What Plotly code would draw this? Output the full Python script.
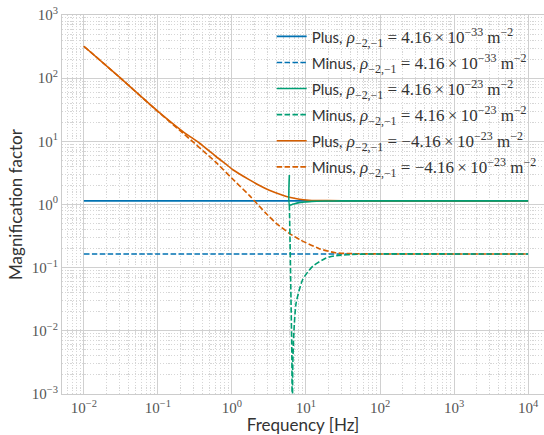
import plotly.graph_objects as go

# ---- data ----
f_const = [0.01, 0.1, 1.0, 10.0, 100.0, 1000.0, 10000.0]
plus_33 = [1.14, 1.14, 1.14, 1.14, 1.14, 1.14, 1.14]
minus_33 = [0.165, 0.165, 0.165, 0.165, 0.165, 0.165, 0.165]

f_plus_pos23 = [5.97, 6.0, 6.5, 7.0, 8.0, 10.0, 12.0, 18.0, 30.0, 100.0, 1000.0, 10000.0]
plus_pos23 = [2.94, 0.98, 1.0, 1.03, 1.07, 1.10, 1.12, 1.135, 1.14, 1.14, 1.14, 1.14]

f_minus_pos23 = [5.97, 6.1, 6.28, 6.45, 6.55, 6.62, 6.82, 7.36, 9.04, 12.3, 18.7, 25.5, 50.0, 100.0, 1000.0, 10000.0]
minus_pos23 = [0.99, 0.25, 0.031, 0.004, 0.0001, 0.0024, 0.0081, 0.0275, 0.065, 0.105, 0.142, 0.155, 0.163, 0.165, 0.165, 0.165]

f_plus_neg23 = [0.01, 0.03, 0.095, 0.218, 0.366, 0.614, 0.84, 1.03, 1.73, 2.36, 3.2, 4.85, 5.97, 8.15, 11.0, 20.0, 50.0, 100.0, 1000.0, 10000.0]
plus_neg23 = [320, 105, 31.6, 14.3, 9.33, 5.7, 4.3, 3.55, 2.45, 2.0, 1.68, 1.4, 1.3, 1.21, 1.17, 1.15, 1.145, 1.14, 1.14, 1.14]

f_minus_neg23 = [0.01, 0.03, 0.095, 0.218, 0.614, 1.0, 1.73, 2.9, 4.0, 5.97, 8.15, 15.1, 25.0, 50.0, 100.0, 1000.0, 10000.0]
minus_neg23 = [320, 104.5, 31.2, 13.5, 4.6, 2.6, 1.38, 0.72, 0.5, 0.35, 0.28, 0.20, 0.172, 0.166, 0.165, 0.165, 0.165]

x_exps = [-2, -1, 0, 1, 2, 3, 4]
y_exps = [-3, -2, -1, 0, 1, 2, 3]

BLUE, GREEN, ORANGE = "#0072B2", "#009E73", "#D55E00"
SERIF = "Liberation Serif"
SANS = "Lato"
TH = "\u2009"

def label(kind, mant, exp):
    return (f"<span style='font-family:{SANS}; font-size:15px'>{kind},</span> "
            f"<span style='font-family:{SERIF}; font-size:17px'><i>ρ</i><sub>−2,−1</sub> = {mant}"
            f"{TH}×{TH}10<sup>−{exp}</sup> m<sup>−2</sup></span>")

def pow_text(e):
    s = str(e).replace("-", "−")
    return f"10<sup>{s}</sup>"

DASH = "5.5px,2.4px"
fig = go.Figure()
series = [
    (f_const, plus_33, BLUE, "solid", label("Plus", "4.16", "33"), 1),
    (f_const, minus_33, BLUE, DASH, label("Minus", "4.16", "33"), 2),
    (f_plus_neg23, plus_neg23, ORANGE, "solid", label("Plus", "−4.16", "23"), 5),
    (f_minus_neg23, minus_neg23, ORANGE, DASH, label("Minus", "−4.16", "23"), 6),
    (f_plus_pos23, plus_pos23, GREEN, "solid", label("Plus", "4.16", "23"), 3),
    (f_minus_pos23, minus_pos23, GREEN, DASH, label("Minus", "4.16", "23"), 4),
]
for x, y, c, d, name, rank in series:
    fig.add_trace(go.Scatter(x=x, y=y, mode="lines", name=name, legendrank=rank,
                             legendgroup=f"g{rank}",
                             line=dict(color=c, width=1.6, dash=d, shape="spline", smoothing=0.6)))

def minor_vals(exps):
    vals = []
    for e in range(exps[0] - 1, exps[-1] + 1):
        for m in range(2, 10):
            vals.append(m * 10.0 ** e)
    return vals

grid_major = "#d0d0d0"
grid_minor = "#d6d6d6"
MINOR_DASH = "1.2px,1.6px"
axis_common = dict(
    type="log", showgrid=True, gridcolor=grid_major, gridwidth=1,
    showline=True, linecolor="#cccccc", linewidth=1, ticks="",
    zeroline=False,
    tickfont=dict(family=SERIF, size=15, color="#555555"),
)
fig.update_xaxes(**axis_common, range=[-2.295, 4.215], mirror=True,
                 tickvals=[10.0 ** e for e in x_exps], ticktext=[pow_text(e) for e in x_exps],
                 minor=dict(showgrid=True, gridcolor=grid_minor, griddash=MINOR_DASH, gridwidth=1, ticks="",
                            tickvals=minor_vals(x_exps)),
                 title=dict(text="Frequency [Hz]", font=dict(family=SANS, size=17, color="#333333"), standoff=8))
fig.update_yaxes(**axis_common, range=[-3, 3],
                 tickvals=[10.0 ** e for e in y_exps], ticktext=[pow_text(e) for e in y_exps],
                 minor=dict(showgrid=True, gridcolor=grid_minor, griddash=MINOR_DASH, gridwidth=1, ticks="",
                            tickvals=minor_vals(y_exps)),
                 title=dict(text="Magnification factor", font=dict(family=SANS, size=17, color="#333333"), standoff=4))

fig.update_layout(
    width=544, height=435,
    margin=dict(l=62, r=0, t=15, b=41),
    paper_bgcolor="white", plot_bgcolor="white",
    font=dict(family=SANS, size=15, color="#333333"),
    showlegend=True,
    legend=dict(x=0.435, y=0.99, xanchor="left", yanchor="top", bgcolor="rgba(0,0,0,0)",
                tracegroupgap=1, itemwidth=30, font=dict(family=SANS, size=17, color="#333333")),
)
fig.write_html("out.html")
